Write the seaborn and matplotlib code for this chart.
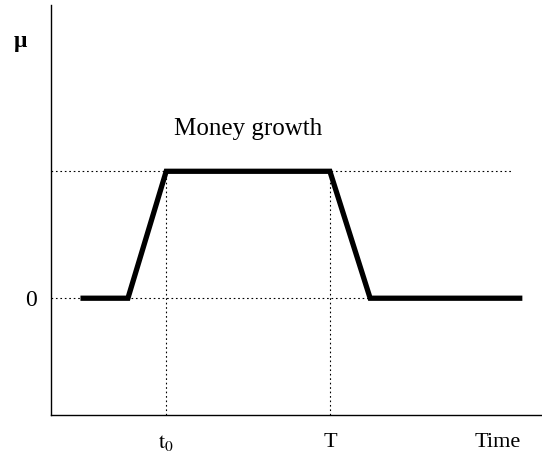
import matplotlib
matplotlib.use("Agg")
import matplotlib.pyplot as plt
import seaborn as sns
import pandas as pd

# money growth path (time, mu)
time_pts = [0.9, 2.35, 3.52, 8.52, 9.75, 14.4]
mu_pts = [0, 0, 1, 1, 0, 0]
t0 = 3.52
T_end = 8.52
time_label_x = 13.66
xtick_labels = [r"$\mathrm{t}_0$", "T", "Time"]

df = pd.DataFrame({"time": time_pts, "mu": mu_pts})

sns.set_style("white")
plt.rcParams["font.family"] = ["Liberation Serif", "DejaVu Serif"]
plt.rcParams["mathtext.fontset"] = "stix"
plt.rcParams["text.color"] = "black"
plt.rcParams["xtick.color"] = "black"
plt.rcParams["ytick.color"] = "black"

fig = plt.figure(figsize=(5.42, 4.67), dpi=100)
ax = fig.add_axes([51 / 542, 52 / 467, 491 / 542, 410 / 467])

# dotted guides
dot = (0, (1.5, 2.5))
ax.plot([0, 14.1], [1, 1], ls=dot, color="black", lw=0.8)
ax.plot([0, 9.75], [0, 0], ls=dot, color="black", lw=0.8)
ax.plot([t0, t0], [-0.92, 1], ls=dot, color="black", lw=0.8)
ax.plot([T_end, T_end], [-0.92, 1], ls=dot, color="black", lw=0.8)

sns.lineplot(data=df, x="time", y="mu", ax=ax, color="black", lw=3.8,
             solid_joinstyle="miter", solid_capstyle="butt")

ax.set_xlim(0, 15)
ax.set_ylim(-0.92, 2.31)
ax.set_xticks([t0, T_end, time_label_x])
ax.set_xticklabels(xtick_labels, fontsize=16)
ax.set_yticks([0])
ax.set_yticklabels(["0"], fontsize=17)
ax.tick_params(axis="both", length=0)
ax.tick_params(axis="x", pad=13)
ax.tick_params(axis="y", pad=10)
ax.set_xlabel("")
ax.set_ylabel("")

for s in ["top", "right"]:
    ax.spines[s].set_visible(False)
for s in ["left", "bottom"]:
    ax.spines[s].set_color("black")
    ax.spines[s].set_linewidth(1.0)

ax.text(-0.95, 2.02, "μ", fontsize=17, ha="center", va="center",
        fontweight="bold", clip_on=False, color="black")
ax.text(6.02, 1.33, "Money growth", fontsize=18, ha="center",
        va="center", color="black")

fig.savefig("out.png", dpi=100)
